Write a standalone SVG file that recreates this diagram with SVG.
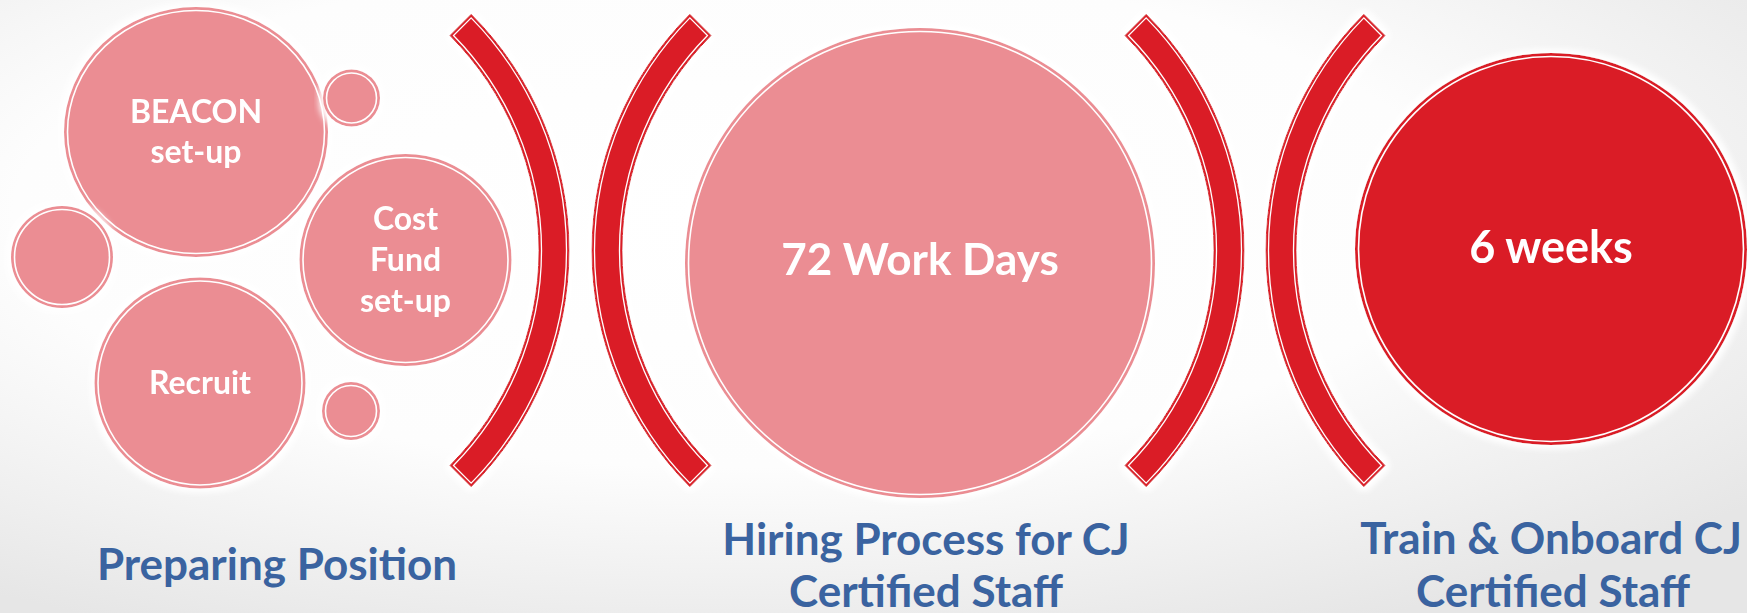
<svg xmlns="http://www.w3.org/2000/svg" width="1747" height="613" viewBox="0 0 1747 613">
<style>
  .pink { fill: #EB8D93; }
  .red { fill: #DA1F28; }
  .ring { fill: none; stroke: #FFFFFF; stroke-width: 1.6; }
  .brk { fill: #DA1F28; stroke: #DA1F28; stroke-width: 1; }
  .brkIn { fill: none; stroke: #FFFFFF; stroke-width: 1.3; }
  .inner { font-family: Lato, "Liberation Sans", sans-serif; font-weight: 700; fill: #FFFFFF; text-anchor: middle; }
  .lbl { font-family: Lato, "Liberation Sans", sans-serif; font-weight: 700; fill: #3A63A0; text-anchor: middle; font-size: 44px; }
</style>
<defs>
  <radialGradient id="bg" cx="0.42" cy="0.35" r="0.75">
    <stop offset="0" stop-color="#FFFFFF"/>
    <stop offset="0.55" stop-color="#FDFDFD"/>
    <stop offset="1" stop-color="#E6E6E6"/>
  </radialGradient>
  <filter id="halo" x="-15%" y="-15%" width="130%" height="130%">
    <feMorphology in="SourceAlpha" operator="dilate" radius="4" result="d"/>
    <feGaussianBlur in="d" stdDeviation="3" result="b"/>
    <feFlood flood-color="#FFFFFF"/>
    <feComposite in2="b" operator="in" result="g"/>
    <feMerge><feMergeNode in="g"/><feMergeNode in="SourceGraphic"/></feMerge>
  </filter>
  <path id="brkShape" d="M 236.17 -236.17 A 334 334 0 0 1 236.17 236.17 L 214.96 214.96 A 304 304 0 0 0 214.96 -214.96 Z"/>
  <path id="brkInner" d="M 236.16 -232.65 A 331.5 331.5 0 0 1 236.16 232.65 L 218.50 214.95 A 306.5 306.5 0 0 0 218.50 -214.95 Z"/>
</defs>
<rect x="0" y="0" width="1747" height="613" fill="url(#bg)"/>

<g id="brackets" filter="url(#halo)">
  <g transform="translate(235,250.5)"><use href="#brkShape" class="brk"/><use href="#brkInner" class="brkIn"/></g>
  <g transform="translate(926,250.5) scale(-1,1)"><use href="#brkShape" class="brk"/><use href="#brkInner" class="brkIn"/></g>
  <g transform="translate(910,250.5)"><use href="#brkShape" class="brk"/><use href="#brkInner" class="brkIn"/></g>
  <g transform="translate(1600,250.5) scale(-1,1)"><use href="#brkShape" class="brk"/><use href="#brkInner" class="brkIn"/></g>
</g>

<g id="beacon" filter="url(#halo)">
  <ellipse cx="196" cy="132" rx="132" ry="125" class="pink"/>
  <ellipse cx="196" cy="132" rx="128.5" ry="121.5" class="ring"/>
  <text class="inner" font-size="32" x="196" y="123">BEACON</text>
  <text class="inner" font-size="32" x="196" y="163">set-up</text>
</g>
<g id="small-left" filter="url(#halo)">
  <circle cx="62" cy="257" r="51" class="pink"/>
  <circle cx="62" cy="257" r="47.5" class="ring"/>
</g>
<g id="small-top" filter="url(#halo)">
  <circle cx="351.5" cy="98" r="28.5" class="pink"/>
  <circle cx="351.5" cy="98" r="25" class="ring"/>
</g>
<g id="small-bottom" filter="url(#halo)">
  <circle cx="351" cy="411" r="29" class="pink"/>
  <circle cx="351" cy="411" r="25.5" class="ring"/>
</g>
<g id="cost-fund" filter="url(#halo)">
  <circle cx="405.5" cy="260" r="106" class="pink"/>
  <circle cx="405.5" cy="260" r="102.5" class="ring"/>
  <text class="inner" font-size="32" x="405.5" y="230">Cost</text>
  <text class="inner" font-size="32" x="405.5" y="271">Fund</text>
  <text class="inner" font-size="32" x="405.5" y="312">set-up</text>
</g>
<g id="recruit" filter="url(#halo)">
  <circle cx="200" cy="383" r="105.5" class="pink"/>
  <circle cx="200" cy="383" r="102" class="ring"/>
  <text class="inner" font-size="32" x="200" y="394">Recruit</text>
</g>

<g id="work-days" filter="url(#halo)">
  <circle cx="920" cy="263" r="235" class="pink"/>
  <circle cx="920" cy="263" r="231.5" class="ring"/>
  <text class="inner" font-size="44" x="920" y="275">72 Work Days</text>
</g>

<g id="six-weeks" filter="url(#halo)">
  <circle cx="1551" cy="249" r="196" class="red"/>
  <circle cx="1551" cy="249" r="192.5" class="ring"/>
  <text class="inner" font-size="45" x="1551" y="263">6 weeks</text>
</g>

<g id="label-preparing">
  <text class="lbl" x="277" y="580">Preparing Position</text>
</g>
<g id="label-hiring">
  <text class="lbl" x="926" y="555">Hiring Process for CJ</text>
  <text class="lbl" x="926" y="607">Certified Staff</text>
</g>
<g id="label-train">
  <text class="lbl" x="1551" y="554">Train &amp; Onboard CJ</text>
  <text class="lbl" x="1553" y="607">Certified Staff</text>
</g>
</svg>
